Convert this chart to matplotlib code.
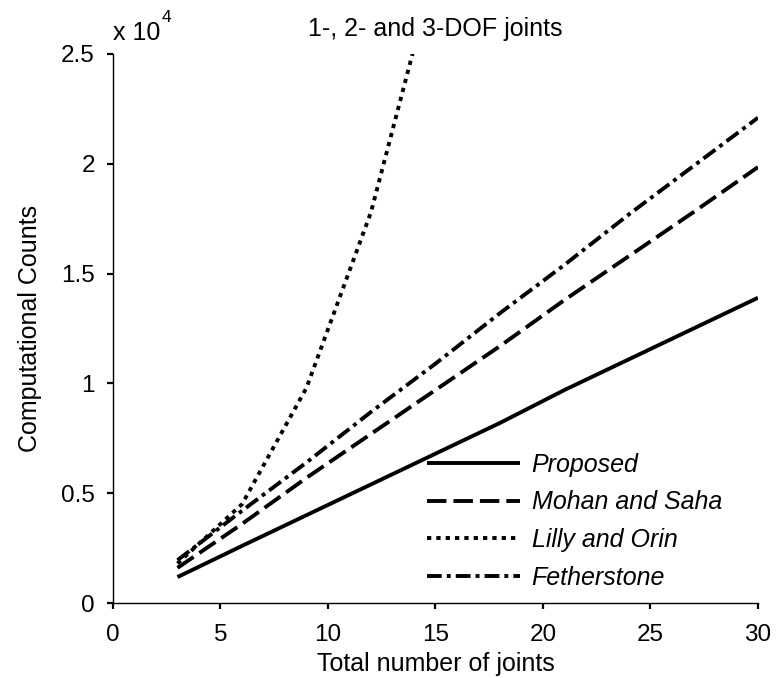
import matplotlib
matplotlib.use("Agg")
import matplotlib.pyplot as plt

joints = [3, 6, 9, 12, 15, 18, 21, 24, 27, 30]
proposed = [1180, 2600, 4000, 5400, 6800, 8200, 9700, 11100, 12500, 13900]
mohan_saha = [1600, 3600, 5700, 7700, 9700, 11700, 13800, 15800, 17800, 19850]
lilly_x = [3, 6, 9, 12, 15]
lilly_orin = [1800, 4500, 9800, 17800, 29000]
fetherstone = [1950, 4200, 6400, 8700, 10900, 13200, 15400, 17700, 19900, 22100]

labels = ["Proposed", "Mohan and Saha", "Lilly and Orin", "Fetherstone"]
xticks = [0, 5, 10, 15, 20, 25, 30]
yticks = [0, 5000, 10000, 15000, 20000, 25000]
yticklabels = ["0", "0.5", "1", "1.5", "2", "2.5"]

plt.rcParams['font.family'] = ['Liberation Sans', 'DejaVu Sans']
fs = 18
tfs = 17.5

fig = plt.figure(figsize=(7.83, 6.78), dpi=100)
ax = fig.add_axes([113/783, 75/678, 645/783, 549/678])

lw = 2.8
ax.plot(joints, proposed, color='black', lw=lw, solid_capstyle='butt', label=labels[0])
ax.plot(joints, mohan_saha, color='black', lw=lw, dashes=(5.0, 1.8), dash_capstyle='butt', label=labels[1])
ax.plot(lilly_x, lilly_orin, color='black', lw=lw, dashes=(1.1, 1.3), dash_capstyle='butt', label=labels[2])
ax.plot(joints, fetherstone, color='black', lw=lw, dashes=(3.8, 1.3, 1.0, 1.3), dash_capstyle='butt', label=labels[3])

ax.set_xlim(0, 30)
ax.set_ylim(0, 25000)
ax.set_xticks(xticks)
ax.set_xticklabels([str(t) for t in xticks])
ax.set_yticks(yticks)
ax.set_yticklabels(yticklabels)
for s in ['top', 'right']:
    ax.spines[s].set_visible(False)
for s in ['left', 'bottom']:
    ax.spines[s].set_linewidth(1.0)
ax.tick_params(axis='both', direction='out', length=4, width=1.6, labelsize=tfs)
ax.tick_params(axis='y', pad=9)
ax.tick_params(axis='x', pad=11)

ax.set_xlabel("Total number of joints", fontsize=fs, labelpad=4.5)
ax.set_ylabel("Computational Counts", fontsize=fs, labelpad=14)
ax.set_title("1-, 2- and 3-DOF joints", fontsize=fs, pad=13)

fig.text(113/783, 1 - 40/678, "x 10", fontsize=fs, ha='left', va='baseline')
fig.text(162/783, 1 - 22/678, "4", fontsize=12.5, ha='left', va='baseline')

leg = ax.legend(loc='upper left', bbox_to_anchor=(0.487, 0.274), frameon=False,
                prop={'style': 'italic', 'size': fs},
                handlelength=3.7, handletextpad=0.48, labelspacing=0.55,
                borderpad=0, borderaxespad=0)

fig.savefig("out.png", dpi=100)
